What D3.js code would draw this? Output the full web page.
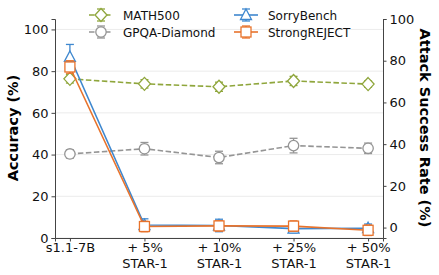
<!DOCTYPE html>
<html><head><meta charset="utf-8">
<script src="https://cdn.jsdelivr.net/npm/d3@7"></script>
<style>body{margin:0;background:#fff}svg{display:block}text{font-family:"DejaVu Sans",sans-serif}</style>
</head><body><svg id="c" width="439" height="275"></svg>
<script>
const categories = ["s1.1-7B", "+ 5%\nSTAR-1", "+ 10%\nSTAR-1", "+ 25%\nSTAR-1", "+ 50%\nSTAR-1"];
const math500 = [76.3, 73.9, 72.5, 75.3, 73.8];
const math500Err = [2, 2, 2.2, 2.2, 1.5];
const gpqa = [40.3, 42.8, 38.6, 44.3, 43.0];
const gpqaErr = [2, 3, 3, 3.5, 2.5];
const sorry = [81.8, 1.2, 1.0, -0.5, -0.3];
const sorryErr = [6, 3, 3, 2, 2];
const strong = [77, 0.5, 0.8, 0.7, -1.3];
const strongErr = [3, 2.5, 2.5, 2.5, 2.5];
const leftTicks = [0, 20, 40, 60, 80, 100];
const rightTicks = [0, 20, 40, 60, 80, 100];

const svg = d3.select("#c");
const L = 55, R = 383, T = 19, B = 238;
const x = d3.scalePoint().domain(categories).range([L, R]).padding(0.2);
const yL = d3.scaleLinear().domain([0, 105]).range([B, T]);
const yR = d3.scaleLinear().domain([-5, 100]).range([B, T]);

// grid
svg.append("g").selectAll("line").data(leftTicks).join("line")
  .attr("x1", L).attr("x2", R).attr("y1", d => yL(d)).attr("y2", d => yL(d))
  .attr("stroke", "#e6e6e6").attr("stroke-width", 0.8);

const axL = svg.append("g").attr("transform", `translate(${L},0)`)
  .call(d3.axisLeft(yL).tickValues(leftTicks).tickSize(3.5).tickPadding(3));
const axR = svg.append("g").attr("transform", `translate(${R},0)`)
  .call(d3.axisRight(yR).tickValues(rightTicks).tickSize(3.5).tickPadding(3));
const axB = svg.append("g").attr("transform", `translate(0,${B})`)
  .call(d3.axisBottom(x).tickSize(3.5).tickPadding(2).tickFormat(""));
[axL, axR, axB].forEach(a => {
  a.select(".domain").attr("stroke", "#444").attr("stroke-width", 1);
  a.selectAll(".tick line").attr("stroke", "#444");
  a.selectAll(".tick text").attr("font-size", 13).attr("fill", "#111").attr("font-family", "DejaVu Sans");
});
axB.selectAll(".tick").each(function(d) {
  const lines = d.split("\n");
  const t = d3.select(this).append("text").attr("fill", "#111").attr("font-size", 13)
    .attr("text-anchor", "middle").attr("font-family", "DejaVu Sans");
  lines.forEach((s, i) => t.append("tspan").attr("x", 0).attr("y", 14 + i * 15.5).text(s));
});

svg.append("text").attr("transform", `translate(18,128) rotate(-90)`)
  .attr("text-anchor", "middle").attr("font-size", 14.5).attr("font-weight", "bold").text("Accuracy (%)");
svg.append("text").attr("transform", `translate(420,128) rotate(90)`)
  .attr("text-anchor", "middle").attr("font-size", 14.5).attr("font-weight", "bold").text("Attack Success Rate (%)");

function marker(g, type, color, cx, cy) {
  if (type === "diamond") g.append("path").attr("d", `M${cx},${cy-6.5}L${cx+6},${cy}L${cx},${cy+6.5}L${cx-6},${cy}Z`);
  else if (type === "circle") g.append("circle").attr("cx", cx).attr("cy", cy).attr("r", 5.2);
  else if (type === "tri") g.append("path").attr("d", `M${cx},${cy-6}L${cx+5.5},${cy+4.5}L${cx-5.5},${cy+4.5}Z`);
  else g.append("rect").attr("x", cx - 5).attr("y", cy - 5).attr("width", 10).attr("height", 10);
  g.selectAll("*").attr("fill", "#fff").attr("stroke", color).attr("stroke-width", 1.3);
}

function series(vals, errs, y, color, type, dash) {
  const g = svg.append("g");
  g.append("path").datum(vals)
    .attr("d", d3.line().x((d, i) => x(categories[i])).y(d => y(d)))
    .attr("fill", "none").attr("stroke", color).attr("stroke-width", 1.6)
    .attr("stroke-dasharray", dash ? "5.5,2.5" : null);
  vals.forEach((v, i) => {
    const cx = x(categories[i]);
    const eb = g.append("g").attr("stroke", color).attr("stroke-width", 1.3);
    eb.append("line").attr("x1", cx).attr("x2", cx).attr("y1", y(v - errs[i])).attr("y2", y(v + errs[i]));
    [v - errs[i], v + errs[i]].forEach(e => eb.append("line").attr("x1", cx - 4).attr("x2", cx + 4).attr("y1", y(e)).attr("y2", y(e)));
  });
  vals.forEach((v, i) => marker(g.append("g"), type, color, x(categories[i]), y(v)));
}

const cMath = "#8fa63c", cGpqa = "#959595", cSorry = "#3f88cf", cStrong = "#e8732c";
series(math500, math500Err, yL, cMath, "diamond", true);
series(gpqa, gpqaErr, yL, cGpqa, "circle", true);
series(sorry, sorryErr, yR, cSorry, "tri", false);
series(strong, strongErr, yR, cStrong, "square", false);

function legendItem(x0, y0, label, color, type, dash) {
  const g = svg.append("g");
  g.append("line").attr("x1", x0).attr("x2", x0 + 24).attr("y1", y0).attr("y2", y0)
    .attr("stroke", color).attr("stroke-width", 1.6).attr("stroke-dasharray", dash ? "5.5,2.5" : null);
  const eb = g.append("g").attr("stroke", color).attr("stroke-width", 1.3);
  eb.append("line").attr("x1", x0 + 12).attr("x2", x0 + 12).attr("y1", y0 - 6).attr("y2", y0 + 6);
  [-6, 6].forEach(o => eb.append("line").attr("x1", x0 + 8).attr("x2", x0 + 16).attr("y1", y0 + o).attr("y2", y0 + o));
  marker(g.append("g"), type, color, x0 + 12, y0);
  svg.append("text").attr("x", x0 + 34).attr("y", y0 + 4.5).attr("font-size", 12).attr("fill", "#111").text(label);
}
legendItem(89, 15, "MATH500", cMath, "diamond", true);
legendItem(89, 32, "GPQA-Diamond", cGpqa, "circle", true);
legendItem(234, 15, "SorryBench", cSorry, "tri", false);
legendItem(234, 32, "StrongREJECT", cStrong, "square", false);
</script></body></html>
